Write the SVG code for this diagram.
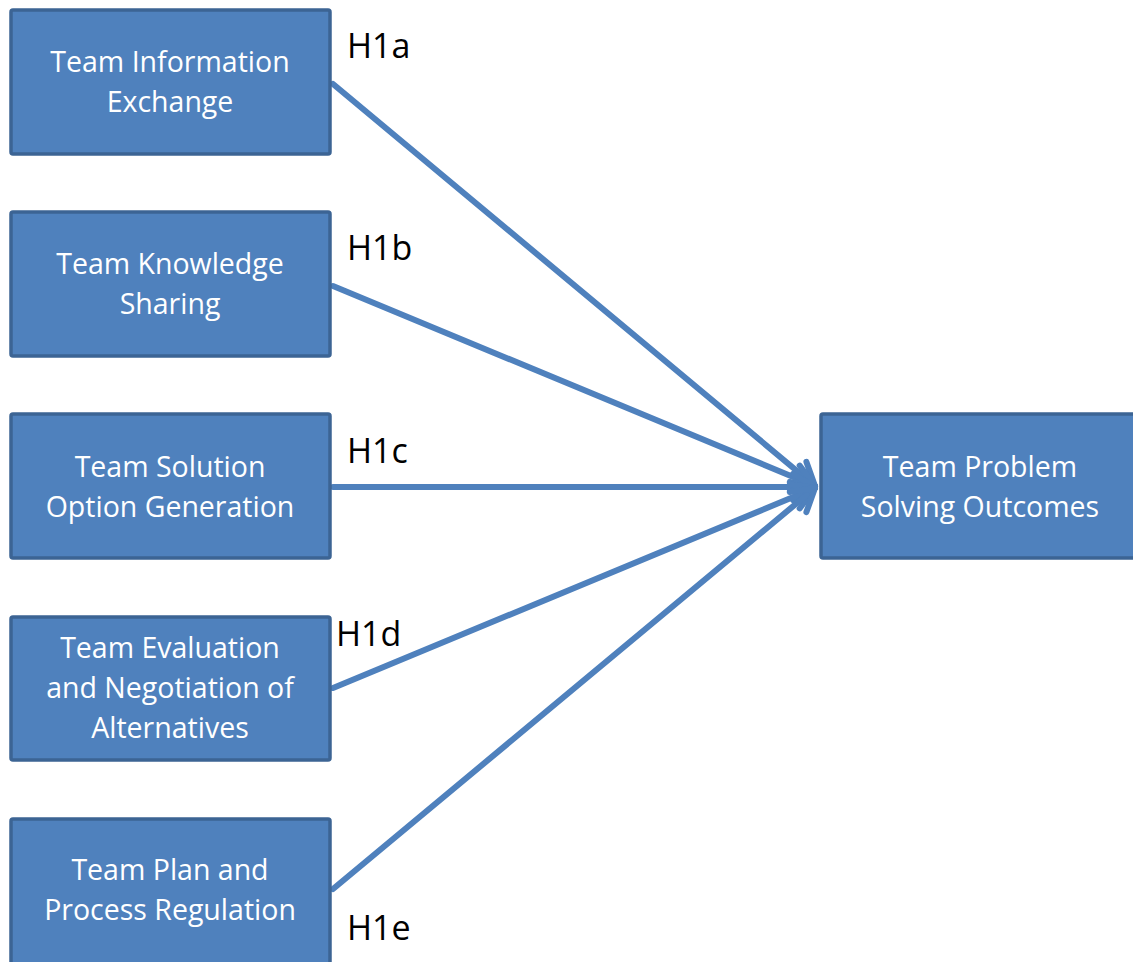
<svg xmlns="http://www.w3.org/2000/svg" width="1133" height="962" viewBox="0 0 1133 962">
  <style>
    .box { fill: #4f81bd; stroke: #3c6494; stroke-width: 3.5; }
    .lbl { font-family: "Open Sans", "Liberation Sans", sans-serif; font-size: 28.5px; fill: #ffffff; text-anchor: middle; }
    .hyp { font-family: "Open Sans", "Liberation Sans", sans-serif; font-size: 34px; fill: #000000; }
    .edge { stroke: #4f81bd; stroke-width: 6; fill: none; stroke-linecap: round; }
  </style>
  <defs>
    <marker id="open-arrow" markerUnits="userSpaceOnUse" viewBox="-30 -18 34 36" refX="0" refY="0" markerWidth="34" markerHeight="36" orient="auto">
      <path d="M-22,-13 L0,0 L-22,13" fill="none" stroke="#4f81bd" stroke-width="6" stroke-linecap="round" stroke-linejoin="round"/>
    </marker>
  </defs>
  <rect width="1133" height="962" fill="#ffffff"/>

  <g id="connectors">
    <line class="edge" x1="333" y1="84" x2="815" y2="486" marker-end="url(#open-arrow)"/>
    <line class="edge" x1="333" y1="286" x2="815" y2="486" marker-end="url(#open-arrow)"/>
    <line class="edge" x1="333" y1="487" x2="815" y2="487" marker-end="url(#open-arrow)"/>
    <line class="edge" x1="333" y1="688" x2="815" y2="488" marker-end="url(#open-arrow)"/>
    <line class="edge" x1="333" y1="889" x2="815" y2="488" marker-end="url(#open-arrow)"/>
  </g>

  <g id="info-exchange">
    <rect class="box" x="11" y="10" width="319" height="144" rx="2"/>
    <text class="lbl" x="170" y="72">Team Information</text>
    <text class="lbl" x="170" y="112">Exchange</text>
  </g>
  <g id="knowledge-sharing">
    <rect class="box" x="11" y="212" width="319" height="144" rx="2"/>
    <text class="lbl" x="170" y="274">Team Knowledge</text>
    <text class="lbl" x="170" y="314">Sharing</text>
  </g>
  <g id="solution-generation">
    <rect class="box" x="11" y="414" width="319" height="144" rx="2"/>
    <text class="lbl" x="170" y="477">Team Solution</text>
    <text class="lbl" x="170" y="517">Option Generation</text>
  </g>
  <g id="evaluation-negotiation">
    <rect class="box" x="11" y="617" width="319" height="143" rx="2"/>
    <text class="lbl" x="170" y="658">Team Evaluation</text>
    <text class="lbl" x="170" y="698">and Negotiation of</text>
    <text class="lbl" x="170" y="738">Alternatives</text>
  </g>
  <g id="plan-regulation">
    <rect class="box" x="11" y="819" width="319" height="150" rx="2"/>
    <text class="lbl" x="170" y="880">Team Plan and</text>
    <text class="lbl" x="170" y="920">Process Regulation</text>
  </g>
  <g id="problem-solving-outcomes">
    <rect class="box" x="821" y="414" width="330" height="144" rx="2"/>
    <text class="lbl" x="980" y="477">Team Problem</text>
    <text class="lbl" x="980" y="517">Solving Outcomes</text>
  </g>

  <g id="hypotheses">
    <text class="hyp" x="347" y="58">H1a</text>
    <text class="hyp" x="347" y="260">H1b</text>
    <text class="hyp" x="347" y="463">H1c</text>
    <text class="hyp" x="336" y="646">H1d</text>
    <text class="hyp" x="347" y="940">H1e</text>
  </g>
</svg>
